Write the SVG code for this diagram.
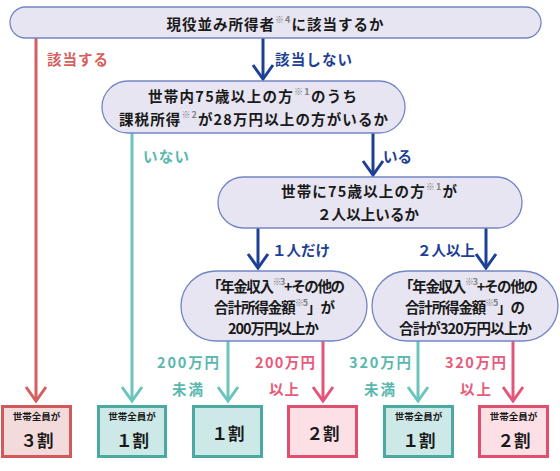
<svg xmlns="http://www.w3.org/2000/svg" width="560" height="471" viewBox="0 0 560 471">
<style>
text{font-family:"Noto Sans CJK JP","Noto Sans",sans-serif;font-weight:700;dominant-baseline:central;text-anchor:middle}
.q{fill:#e7e5f1;stroke:#7385c5;stroke-width:1.3}
.t{font-size:14.5px;fill:#1a1a1a}
.sup{font-size:9px;fill:#808080}
.lbl{font-size:14.5px}
.cb{stroke:#1d3f94}
.cr{stroke:#d45f5f}
.ct{stroke:#6cc5bd}
.cp{stroke:#e5557a}
.ln{fill:none;stroke-width:3}
.fb{fill:#1d3f94}
.fr{fill:#d75f5d}
.ft{fill:#5ab7ae}
.fp{fill:#e85a7a}
.r1{fill:#f3dbdb;stroke:#d05a5a;stroke-width:3}
.r2{fill:#cde9e7;stroke:#4aa9a1;stroke-width:3}
.r3{fill:#fde0e6;stroke:#e0506e;stroke-width:3}
.s{font-size:9.5px;fill:#1a1a1a}
.b{font-size:16.5px;fill:#1a1a1a}
</style>
<defs>
<marker id="mb" markerUnits="userSpaceOnUse" viewBox="-2 -12 18 24" refX="14" refY="0" markerWidth="18" markerHeight="24" orient="auto"><path d="M0,-10 L14,0 L0,10" fill="none" stroke="#1d3f94" stroke-width="3"/></marker>
<marker id="mr" markerUnits="userSpaceOnUse" viewBox="-2 -12 18 24" refX="14" refY="0" markerWidth="18" markerHeight="24" orient="auto"><path d="M0,-10 L14,0 L0,10" fill="none" stroke="#d45f5f" stroke-width="3"/></marker>
<marker id="mt" markerUnits="userSpaceOnUse" viewBox="-2 -12 18 24" refX="14" refY="0" markerWidth="18" markerHeight="24" orient="auto"><path d="M0,-10 L14,0 L0,10" fill="none" stroke="#6cc5bd" stroke-width="3"/></marker>
<marker id="mp" markerUnits="userSpaceOnUse" viewBox="-2 -12 18 24" refX="14" refY="0" markerWidth="18" markerHeight="24" orient="auto"><path d="M0,-10 L14,0 L0,10" fill="none" stroke="#e5557a" stroke-width="3"/></marker>
</defs>
<rect width="560" height="471" fill="#ffffff"/>

<g id="connectors">
<line class="ln cr" x1="36" y1="38" x2="36" y2="401" marker-end="url(#mr)"/>
<line class="ln cb" x1="263" y1="38" x2="263" y2="79" marker-end="url(#mb)"/>
<line class="ln ct" x1="132" y1="133" x2="132" y2="401" marker-end="url(#mt)"/>
<line class="ln cb" x1="373" y1="133" x2="373" y2="175" marker-end="url(#mb)"/>
<line class="ln cb" x1="258" y1="228" x2="258" y2="268" marker-end="url(#mb)"/>
<line class="ln cb" x1="486" y1="228" x2="486" y2="268" marker-end="url(#mb)"/>
<line class="ln ct" x1="228" y1="341" x2="228" y2="401" marker-end="url(#mt)"/>
<line class="ln cp" x1="323" y1="341" x2="323" y2="401" marker-end="url(#mp)"/>
<line class="ln ct" x1="418" y1="341" x2="418" y2="401" marker-end="url(#mt)"/>
<line class="ln cp" x1="513" y1="341" x2="513" y2="401" marker-end="url(#mp)"/>
<text class="lbl fr" x="77.5" y="58" textLength="61" lengthAdjust="spacing">該当する</text>
<text class="lbl fb" x="313.5" y="58" textLength="77" lengthAdjust="spacing">該当しない</text>
<text class="lbl ft" x="166" y="155" textLength="46" lengthAdjust="spacing">いない</text>
<text class="lbl fb" x="397.5" y="155" textLength="29" lengthAdjust="spacing">いる</text>
<text class="lbl fb" x="301" y="249" textLength="58" lengthAdjust="spacing">１人だけ</text>
<text class="lbl fb" x="446" y="249" textLength="58" lengthAdjust="spacing">２人以上</text>
<text class="lbl ft" x="188" y="361" textLength="62" lengthAdjust="spacing">200万円</text>
<text class="lbl ft" x="187.5" y="388" textLength="31" lengthAdjust="spacing">未満</text>
<text class="lbl fp" x="285" y="361" textLength="60" lengthAdjust="spacing">200万円</text>
<text class="lbl fp" x="284" y="388" textLength="30" lengthAdjust="spacing">以上</text>
<text class="lbl ft" x="380" y="361" textLength="62" lengthAdjust="spacing">320万円</text>
<text class="lbl ft" x="379.5" y="388" textLength="31" lengthAdjust="spacing">未満</text>
<text class="lbl fp" x="475.5" y="361" textLength="61" lengthAdjust="spacing">320万円</text>
<text class="lbl fp" x="475.5" y="388" textLength="31" lengthAdjust="spacing">以上</text>
</g>

<g id="q1">
<rect class="q" x="10" y="7" width="531" height="31" rx="15.5"/>
<text class="t" x="275" y="23" textLength="217" lengthAdjust="spacing">現役並み所得者<tspan class="sup" dy="-4">※4</tspan><tspan dy="4">に該当するか</tspan></text>
</g>

<g id="q2">
<rect class="q" x="102" y="81" width="303" height="52" rx="26"/>
<text class="t" x="252.5" y="95" textLength="209" lengthAdjust="spacing">世帯内75歳以上の方<tspan class="sup" dy="-4">※1</tspan><tspan dy="4">のうち</tspan></text>
<text class="t" x="253.5" y="118" textLength="269" lengthAdjust="spacing">課税所得<tspan class="sup" dy="-4">※2</tspan><tspan dy="4">が28万円以上の方がいるか</tspan></text>
</g>

<g id="q3">
<rect class="q" x="218" y="177" width="304" height="51" rx="25.5"/>
<text class="t" x="369" y="190" textLength="176" lengthAdjust="spacing">世帯に75歳以上の方<tspan class="sup" dy="-4">※1</tspan><tspan dy="4">が</tspan></text>
<text class="t" x="368" y="213" textLength="102" lengthAdjust="spacing">２人以上いるか</text>
</g>

<g id="q4">
<rect class="q" x="181" y="271" width="186" height="70" rx="35"/>
<text class="t" x="276" y="285" textLength="138" lengthAdjust="spacing">「年金収入<tspan class="sup" dy="-4">※3</tspan><tspan dy="4">+その他の</tspan></text>
<text class="t" x="274.5" y="306" textLength="121" lengthAdjust="spacing">合計所得金額<tspan class="sup" dy="-4">※5</tspan><tspan dy="4">」が</tspan></text>
<text class="t" x="273.5" y="327" textLength="91" lengthAdjust="spacing">200万円以上か</text>
</g>

<g id="q5">
<rect class="q" x="372" y="271" width="186" height="70" rx="35"/>
<text class="t" x="468.5" y="285" textLength="139" lengthAdjust="spacing">「年金収入<tspan class="sup" dy="-4">※3</tspan><tspan dy="4">+その他の</tspan></text>
<text class="t" x="465" y="306" textLength="120" lengthAdjust="spacing">合計所得金額<tspan class="sup" dy="-4">※5</tspan><tspan dy="4">」の</tspan></text>
<text class="t" x="465.5" y="327" textLength="133" lengthAdjust="spacing">合計が320万円以上か</text>
</g>

<g id="r1">
<rect class="r1" x="2.5" y="406.5" width="68" height="50"/>
<text class="s" x="36.5" y="416">世帯全員が</text>
<text class="b" x="37" y="440">３割</text>
</g>
<g id="r2">
<rect class="r2" x="98.5" y="406.5" width="67" height="50"/>
<text class="s" x="132" y="416">世帯全員が</text>
<text class="b" x="132.5" y="440">１割</text>
</g>
<g id="r3">
<rect class="r2" x="193.5" y="406.5" width="68" height="50"/>
<text class="b" x="228" y="433">１割</text>
</g>
<g id="r4">
<rect class="r3" x="288.5" y="406.5" width="68" height="50"/>
<text class="b" x="323" y="433">２割</text>
</g>
<g id="r5">
<rect class="r2" x="384.5" y="406.5" width="68" height="50"/>
<text class="s" x="418.5" y="416">世帯全員が</text>
<text class="b" x="419" y="440">１割</text>
</g>
<g id="r6">
<rect class="r3" x="479.5" y="406.5" width="68" height="50"/>
<text class="s" x="513.5" y="416">世帯全員が</text>
<text class="b" x="514" y="440">２割</text>
</g>
</svg>
